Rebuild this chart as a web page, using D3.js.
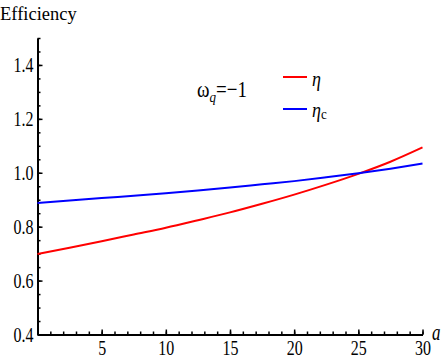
<!DOCTYPE html>
<html>
<head>
<meta charset="utf-8">
<script src="https://d3js.org/d3.v7.min.js"></script>
</head>
<body style="margin:0">
<script>
    const W = 443, H = 360;
    const margin = {top: 38, right: 20.5, bottom: 25.5, left: 37.5};
    const width = W - margin.left - margin.right,
        height = H - margin.top - margin.bottom;
    const fam = "Liberation Serif";

    // values
    const aValues = [0, 2.5, 5, 7.5, 10, 12.5, 15, 17.5, 20, 22.5, 25, 27.5, 30];
    const eta  = [0.699, 0.722, 0.746, 0.771, 0.796, 0.824, 0.853, 0.885, 0.919, 0.956, 0.996, 1.041, 1.094];
    const etaC = [0.888, 0.897, 0.906, 0.915, 0.924, 0.934, 0.945, 0.957, 0.969, 0.983, 0.998, 1.015, 1.034];
    const xMajor = [5, 10, 15, 20, 25, 30];
    const yMajor = [0.4, 0.6, 0.8, 1.0, 1.2, 1.4];
    const textScale = 1.32;

    const root = d3.select("body").append("svg")
        .attr("width", W).attr("height", H);
    const svg = root.append("g")
        .attr("transform", `translate(${margin.left},${margin.top})`);

    const x = d3.scaleLinear().domain([0, 30]).range([0, width]);
    const y = d3.scaleLinear().domain([0.4, 1.5]).range([height, 0]);

    // minor ticks
    svg.append("g")
        .attr("transform", `translate(0,${height})`)
        .call(d3.axisBottom(x).tickValues(d3.range(0, 31, 1)).tickSize(-3).tickFormat(""))
        .call(g => g.select(".domain").remove());
    svg.append("g")
        .call(d3.axisLeft(y).tickValues(d3.range(8, 31).map(d => d * 0.05)).tickSize(-3).tickFormat(""))
        .call(g => g.select(".domain").remove());

    // major ticks + labels
    const xAxis = svg.append("g")
        .attr("transform", `translate(0,${height})`)
        .call(d3.axisBottom(x).tickValues(xMajor).tickSize(-5).tickSizeOuter(0).tickFormat(d3.format("d")));
    xAxis.selectAll("text")
        .attr("y", 0).attr("dy", null)
        .attr("transform", `translate(0,20.5) scale(1,${textScale})`);

    const yAxis = svg.append("g")
        .call(d3.axisLeft(y).tickValues(yMajor).tickSize(-5).tickSizeOuter(0).tickFormat(d3.format(".1f")));
    yAxis.selectAll("text")
        .attr("x", 0).attr("dy", null)
        .attr("transform", `translate(-4,6.5) scale(1,${textScale})`);

    svg.selectAll(".tick line").attr("stroke", "#000").attr("stroke-width", 1.5);
    svg.selectAll(".domain").attr("stroke", "#000").attr("stroke-width", 2);
    svg.selectAll("g").attr("font-family", null).attr("font-size", null);
    svg.selectAll(".tick text")
        .style("font-family", `"${fam}"`)
        .style("font-size", "16px");

    // curves
    const line = d3.line()
        .x(d => x(d[0]))
        .y(d => y(d[1]))
        .curve(d3.curveMonotoneX);

    const series = [
        {name: "eta", color: "#ff0000", values: d3.zip(aValues, eta)},
        {name: "etaC", color: "#0000ff", values: d3.zip(aValues, etaC)}
    ];

    svg.selectAll(".curve")
        .data(series)
        .join("path")
        .attr("class", "curve")
        .attr("fill", "none")
        .attr("stroke", d => d.color)
        .attr("stroke-width", 2)
        .attr("d", d => line(d.values));

    // axis titles
    root.append("text")
        .attr("x", 0).attr("y", 20)
        .style("font-family", `"${fam}"`)
        .style("font-size", "18.5px")
        .text("Efficiency");
    root.append("text")
        .attr("transform", `translate(432,340) scale(1,${textScale})`)
        .style("font-family", `"${fam}"`)
        .style("font-size", "17px")
        .style("font-style", "italic")
        .text("a");

    // annotation
    const note = root.append("text")
        .attr("transform", `translate(197,97) scale(1,1.2)`)
        .style("font-family", `"${fam}"`)
        .style("font-size", "19px");
    note.append("tspan").text("ω");
    note.append("tspan").attr("dy", 4).style("font-size", "13px").style("font-style", "italic").text("q");
    note.append("tspan").attr("dy", -4).text("=−1");

    // legend
    const legend = root.append("g");
    legend.append("line").attr("x1", 283).attr("x2", 307).attr("y1", 77).attr("y2", 77)
        .attr("stroke", "#ff0000").attr("stroke-width", 2);
    legend.append("line").attr("x1", 283).attr("x2", 307).attr("y1", 109).attr("y2", 109)
        .attr("stroke", "#0000ff").attr("stroke-width", 2);
    legend.append("text")
        .attr("transform", `translate(312,86) scale(1,1.2)`)
        .style("font-family", `"${fam}"`)
        .style("font-size", "18px").style("font-style", "italic")
        .text("η");
    const l2 = legend.append("text")
        .attr("transform", `translate(312,117) scale(1,1.2)`)
        .style("font-family", `"${fam}"`)
        .style("font-size", "18px").style("font-style", "italic");
    l2.append("tspan").text("η");
    l2.append("tspan").attr("dy", 2).style("font-size", "13px").style("font-style", "normal").text("c");
</script>
</body>
</html>
